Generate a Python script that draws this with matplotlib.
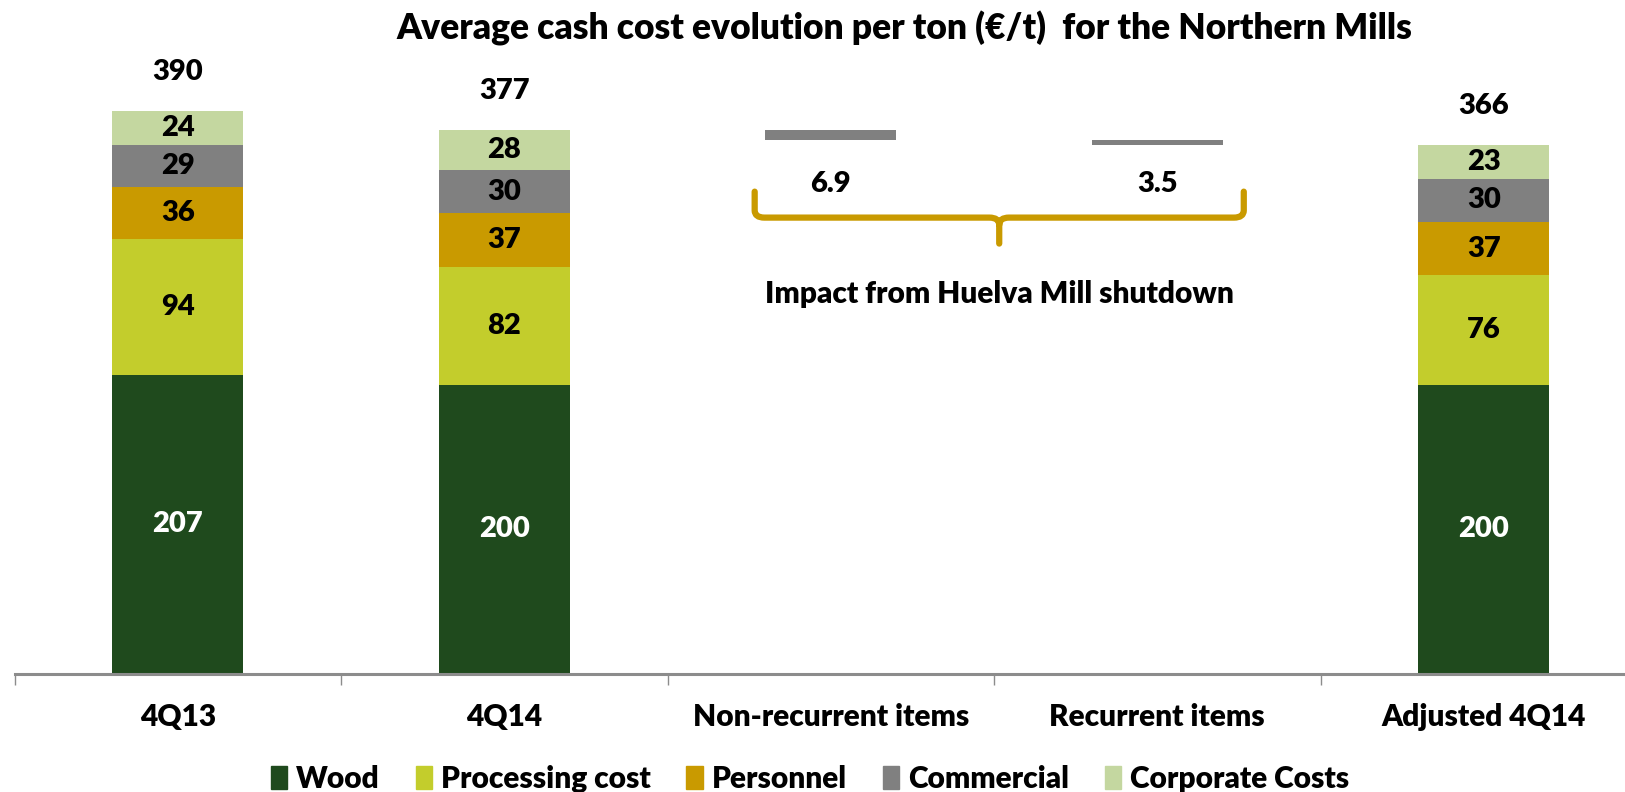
import numpy as np
import matplotlib
matplotlib.use("Agg")
import matplotlib.pyplot as plt
from matplotlib.path import Path
from matplotlib.patches import PathPatch, Patch

plt.rcParams['font.family'] = ['Lato', 'DejaVu Sans']
W = "heavy"

categories = ["4Q13", "4Q14", "Non-recurrent items", "Recurrent items", "Adjusted 4Q14"]
series = ["Wood", "Processing cost", "Personnel", "Commercial", "Corporate Costs"]
colors = ["#1f4a1d", "#c3cd2c", "#c99a00", "#808080", "#c4d7a0"]
label_colors = ["white", "black", "black", "black", "black"]

# stacked bars (4Q13, 4Q14, Adjusted 4Q14)
stack_idx = [0, 1, 4]
wood = [207, 200, 200]
processing = [94, 82, 76]
personnel = [36, 37, 37]
commercial = [29, 30, 30]
corporate = [24, 28, 23]
values = [wood, processing, personnel, commercial, corporate]

# waterfall steps
step_idx = [2, 3]
step_vals = [6.9, 3.5]
brace_text = "Impact from Huelva Mill shutdown"

fig = plt.figure(figsize=(16.25, 7.92), dpi=100)
ax = fig.add_axes([14.5 / 1625, 118.4 / 792, 5 * 326.5 / 1625, 673.6 / 792])

bottom = np.zeros(len(stack_idx))
for k, name in enumerate(series):
    v = np.array(values[k], dtype=float)
    ax.bar(stack_idx, v, 0.4, bottom=bottom, color=colors[k], label=name)
    for x, b, h in zip(stack_idx, bottom, v):
        ax.text(x, b + h / 2, f"{h:g}", ha="center", va="center",
                color=label_colors[k], fontsize=21, fontweight=W)
    bottom += v

totals = bottom.copy()
for x, t in zip(stack_idx, totals):
    ax.text(x, t + 27, f"{t:g}", ha="center", va="center", fontsize=21, fontweight=W)

# floating steps down from 4Q14 total
level = totals[1]
for x, s in zip(step_idx, step_vals):
    ax.bar(x, s, 0.4, bottom=level - s, color="#808080")
    ax.text(x, 339, f"{s:g}", ha="center", va="center", fontsize=21, fontweight=W)
    level -= s

# curly brace
x0, x1, xm = 1.767, 3.265, 2.516
yt, yh, yb = 334, 316, 298
r = 0.03
ry = 5
verts = [(x0, yt), (x0, yh + ry), (x0, yh), (x0 + r, yh),
         (xm - r, yh), (xm, yh), (xm, yh - ry),
         (xm, yb),
         (xm, yh - ry), (xm, yh), (xm + r, yh),
         (x1 - r, yh), (x1, yh), (x1, yh + ry),
         (x1, yt)]
codes = [Path.MOVETO, Path.LINETO, Path.CURVE3, Path.CURVE3,
         Path.LINETO, Path.CURVE3, Path.CURVE3,
         Path.LINETO,
         Path.MOVETO, Path.CURVE3, Path.CURVE3,
         Path.LINETO, Path.CURVE3, Path.CURVE3,
         Path.LINETO]
ax.add_patch(PathPatch(Path(verts, codes), fill=False, edgecolor="#c99a00",
                       linewidth=4.5, capstyle="round", joinstyle="round"))
ax.text(xm, 263, brace_text, ha="center", va="center", fontsize=21.5, fontweight=W)

ax.set_xlim(-0.5, 4.5)
ax.set_ylim(0, 466.8)
for side in ["top", "right", "left"]:
    ax.spines[side].set_visible(False)
ax.spines["bottom"].set_color("#8c8c8c")
ax.spines["bottom"].set_linewidth(2.2)
ax.set_yticks([])
ax.set_xticks(range(len(categories)))
ax.set_xticklabels(categories, fontsize=21.5, fontweight=W)
ax.tick_params(axis="x", which="major", length=0, pad=21)
ax.set_xticks(np.arange(-0.5, 5, 1), minor=True)
ax.tick_params(axis="x", which="minor", length=8, width=1, color="#8c8c8c")

fig.text(904 / 1625, 1 - 28 / 792, "Average cash cost evolution per ton (€/t)  for the Northern Mills",
         ha="center", va="center", fontsize=25.5, fontweight=W)

handles = [Patch(color=c, label=s) for c, s in zip(colors, series)]
fig.legend(handles=handles, loc="center", bbox_to_anchor=(0.4985, 0.0165), ncol=5,
           frameon=False, prop={"size": 21.5, "weight": W}, handlelength=0.55,
           handleheight=0.8, handletextpad=0.3, columnspacing=1.2)

fig.savefig("out.png", dpi=100)
